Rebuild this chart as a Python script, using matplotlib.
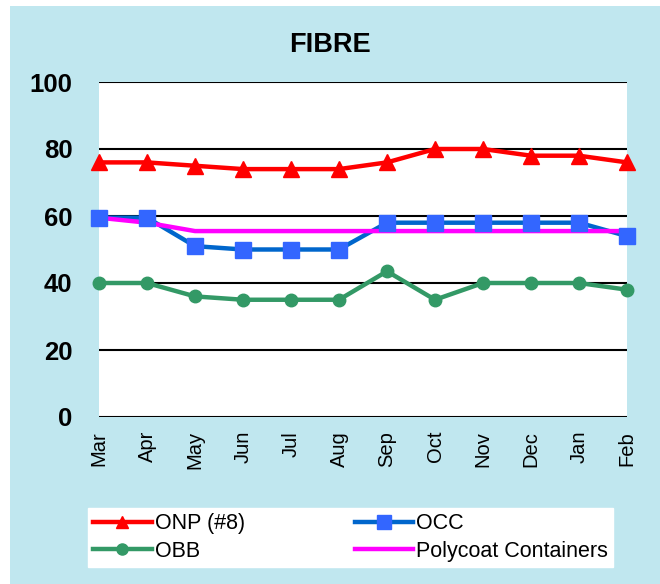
import matplotlib
matplotlib.use('Agg')
from matplotlib import pyplot as plt
from matplotlib import rcParams
from matplotlib.patches import Rectangle
from matplotlib.lines import Line2D
import numpy as np

rcParams["font.family"] = "Liberation Sans"

months = ['Mar', 'Apr', 'May', 'Jun', 'Jul', 'Aug', 'Sep', 'Oct', 'Nov', 'Dec', 'Jan', 'Feb']
onp = [76, 76, 75, 74, 74, 74, 76, 80, 80, 78, 78, 76]
occ = [59.5, 59.5, 51, 50, 50, 50, 58, 58, 58, 58, 58, 54]
obb = [40, 40, 36, 35, 35, 35, 43.5, 35, 40, 40, 40, 38]
polycoat = [59.5, 58, 55.5, 55.5, 55.5, 55.5, 55.5, 55.5, 55.5, 55.5, 55.5, 55.5]
yticks = [0, 20, 40, 60, 80, 100]

bg = '#C0E7EF'

fig = plt.figure(figsize=(6.6, 5.84), dpi=100)
fig.patch.set_facecolor('white')
fig.patches.append(Rectangle((10/660, 0), 1, 1 - 6/584, transform=fig.transFigure,
                             facecolor=bg, edgecolor='none', zorder=-5))

ax = fig.add_axes([99/660, 1 - 417/584, (627-99)/660, (417-82)/584])
ax.set_facecolor('white')
x = np.arange(len(months))

for yv in yticks:
    ax.axhline(yv, color='black', linewidth=1.5, zorder=1)

ax.plot(x, onp, color='#FF0000', linewidth=3.2, marker='^', markersize=11,
        zorder=3, clip_on=False)
ax.plot(x, obb, color='#339966', linewidth=3.2, marker='o', markersize=9,
        zorder=3, clip_on=False)
ax.plot(x, occ, color='#0066CC', linewidth=3.2, zorder=2)
ax.plot(x, polycoat, color='#FF00FF', linewidth=3.2, zorder=3)
ax.plot(x, occ, linewidth=0, marker='s', markersize=11,
        markerfacecolor='#3366FF', markeredgecolor='#3366FF', zorder=4, clip_on=False)

ax.set_xlim(0, len(months) - 1)
ax.set_ylim(0, 100)
ax.set_xticks(x)
ax.set_xticklabels(months, rotation=90, fontsize=14.5)
ax.set_yticks(yticks)
ax.set_yticklabels([str(v) for v in yticks], fontsize=18.5, fontweight='bold')
ax.tick_params(axis='both', length=0)
ax.tick_params(axis='y', pad=19)
ax.tick_params(axis='x', pad=10)
for s in ax.spines.values():
    s.set_visible(False)

fig.text(0.5, 1 - 45/584, 'FIBRE', ha='center', va='center', fontsize=19.5, fontweight='bold')

# legend: same order as the reference (row-wise)
h_onp = Line2D([], [], color='#FF0000', linewidth=3.2, marker='^', markersize=9)
h_occ = Line2D([], [], color='#0066CC', linewidth=3.2, marker='s', markersize=10,
               markerfacecolor='#3366FF', markeredgecolor='#3366FF')
h_obb = Line2D([], [], color='#339966', linewidth=3.2, marker='o', markersize=8)
h_poly = Line2D([], [], color='#FF00FF', linewidth=3.2)
leg = fig.legend([h_onp, h_obb, h_occ, h_poly],
                 ['ONP (#8)', 'OBB', 'OCC', 'Polycoat Containers'],
                 ncol=2, loc='upper left', bbox_to_anchor=(88/660, 1 - 508/584),
                 fontsize=15.5, handlelength=2.7, handletextpad=0.15,
                 columnspacing=5.1, borderpad=0.25, labelspacing=0.3,
                 borderaxespad=0, fancybox=False, frameon=True,
                 edgecolor='white', facecolor='white', framealpha=1)

fig.savefig('out.png', dpi=100, facecolor=fig.get_facecolor())
